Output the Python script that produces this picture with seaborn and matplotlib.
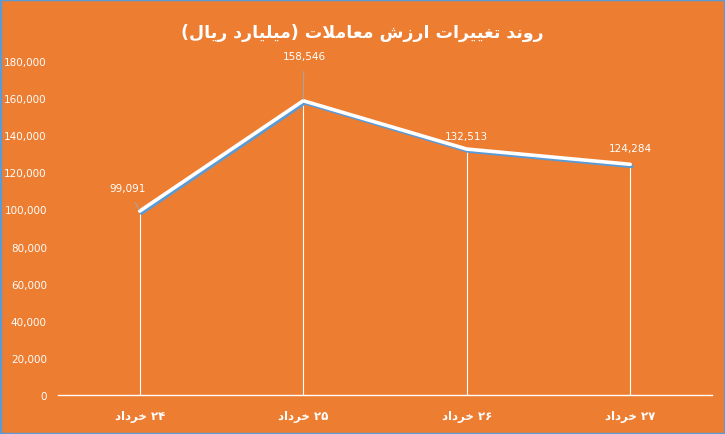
import matplotlib
matplotlib.use("Agg")
import matplotlib.pyplot as plt
import matplotlib.patheffects as pe
import seaborn as sns
import pandas as pd

title = "روند تغییرات ارزش معاملات (میلیارد ریال)"
days = ["۲۴ خرداد", "۲۵ خرداد", "۲۶ خرداد", "۲۷ خرداد"]
values = [99091, 158546, 132513, 124284]

# label offsets in points, and whether a leader line is drawn
label_offsets = [(-8.6, 16.6), (0.5, 32), (0, 9.4), (0, 11.5)]
leaders = [True, True, False, False]

ORANGE = "#ED7D31"
BLUE = "#5B9BD5"

# presentation forms: isolated, final, initial, medial (None = right-joining only)
FORMS = {
    "ا": ("\uFE8D", "\uFE8E", None, None),
    "آ": ("\uFE81", "\uFE82", None, None),
    "د": ("\uFEA9", "\uFEAA", None, None),
    "ر": ("\uFEAD", "\uFEAE", None, None),
    "ز": ("\uFEAF", "\uFEB0", None, None),
    "و": ("\uFEED", "\uFEEE", None, None),
    "ب": ("\uFE8F", "\uFE90", "\uFE91", "\uFE92"),
    "ت": ("\uFE95", "\uFE96", "\uFE97", "\uFE98"),
    "خ": ("\uFEA5", "\uFEA6", "\uFEA7", "\uFEA8"),
    "ش": ("\uFEB5", "\uFEB6", "\uFEB7", "\uFEB8"),
    "ع": ("\uFEC9", "\uFECA", "\uFECB", "\uFECC"),
    "غ": ("\uFECD", "\uFECE", "\uFECF", "\uFED0"),
    "ل": ("\uFEDD", "\uFEDE", "\uFEDF", "\uFEE0"),
    "م": ("\uFEE1", "\uFEE2", "\uFEE3", "\uFEE4"),
    "ن": ("\uFEE5", "\uFEE6", "\uFEE7", "\uFEE8"),
    "ی": ("\uFBFC", "\uFBFD", "\uFBFE", "\uFBFF"),
}


def shape(word):
    # join letters, lam-alef ligature
    chars = list(word)
    out = []
    i = 0
    while i < len(chars):
        c = chars[i]
        prev = chars[i - 1] if i > 0 else None
        joins_prev = prev in FORMS and FORMS[prev][2] is not None
        if c == "ل" and i + 1 < len(chars) and chars[i + 1] == "ا":
            out.append("\uFEFC" if joins_prev else "\uFEFB")
            i += 2
            continue
        if c not in FORMS:
            out.append(c)
            i += 1
            continue
        nxt = chars[i + 1] if i + 1 < len(chars) else None
        joins_next = FORMS[c][2] is not None and nxt in FORMS
        iso, fin, ini, med = FORMS[c]
        if joins_prev and joins_next:
            out.append(med)
        elif joins_prev:
            out.append(fin)
        elif joins_next:
            out.append(ini)
        else:
            out.append(iso)
        i += 1
    return "".join(out)


def rtl(text):
    words = text.split(" ")
    vis = []
    for w in reversed(words):
        if w and all("\u06F0" <= ch <= "\u06F9" for ch in w):
            vis.append(w)
        else:
            s = shape(w)[::-1]
            s = s.replace("(", "\0").replace(")", "(").replace("\0", ")")
            vis.append(s)
    return " ".join(vis)


sns.set_style("white")
plt.rcParams["font.family"] = ["DejaVu Sans"]

df = pd.DataFrame({"pos": range(len(values)), "value": values})

fig = plt.figure(figsize=(7.25, 4.35), dpi=100, facecolor=ORANGE)
ax = fig.add_axes([0.08, 0.0897, 0.902, 0.768])
ax.set_facecolor(ORANGE)

# drop lines
for x, v in zip(df["pos"], df["value"]):
    ax.plot([x, x], [0, v], color="white", lw=0.8, zorder=1)

sns.lineplot(data=df, x="pos", y="value", ax=ax, color="white", lw=2.6, zorder=3,
             path_effects=[pe.SimpleLineShadow(offset=(1.2, -1.5), shadow_color=BLUE, alpha=1),
                           pe.Normal()])

for x, v, (dx, dy), lead in zip(df["pos"], df["value"], label_offsets, leaders):
    ax.annotate(f"{v:,}", xy=(x, v), xytext=(dx, dy), textcoords="offset points",
                ha="center", va="center", color="white", fontsize=7.5, zorder=5,
                arrowprops=dict(arrowstyle="-", color="#A5A5A5", lw=0.8,
                                shrinkA=5, shrinkB=1) if lead else None)

ax.set_xlim(-0.5, 3.5)
ax.set_ylim(0, 180000)
ax.set_yticks(range(0, 180001, 20000))
ax.set_yticklabels([f"{t:,}" for t in range(0, 180001, 20000)], color="white", fontsize=7.5)
ax.set_xticks(range(len(days)))
ax.set_xticklabels([rtl(d) for d in days], color="white", fontsize=8.5, fontweight="bold")
ax.tick_params(axis="both", length=0)
ax.tick_params(axis="y", pad=8)
ax.tick_params(axis="x", pad=10)
ax.set_xlabel("")
ax.set_ylabel("")
for side in ["top", "right", "left"]:
    ax.spines[side].set_visible(False)
ax.spines["bottom"].set_color("white")
ax.spines["bottom"].set_linewidth(1)

fig.text(0.5, 0.925, rtl(title), ha="center", va="center", color="white",
         fontsize=12.5, fontweight="bold")

border = plt.Rectangle((0, 0), 1, 1, transform=fig.transFigure, fill=False,
                       edgecolor=BLUE, lw=2.5)
fig.patches.append(border)

fig.savefig("out.png", dpi=100, facecolor=ORANGE)
